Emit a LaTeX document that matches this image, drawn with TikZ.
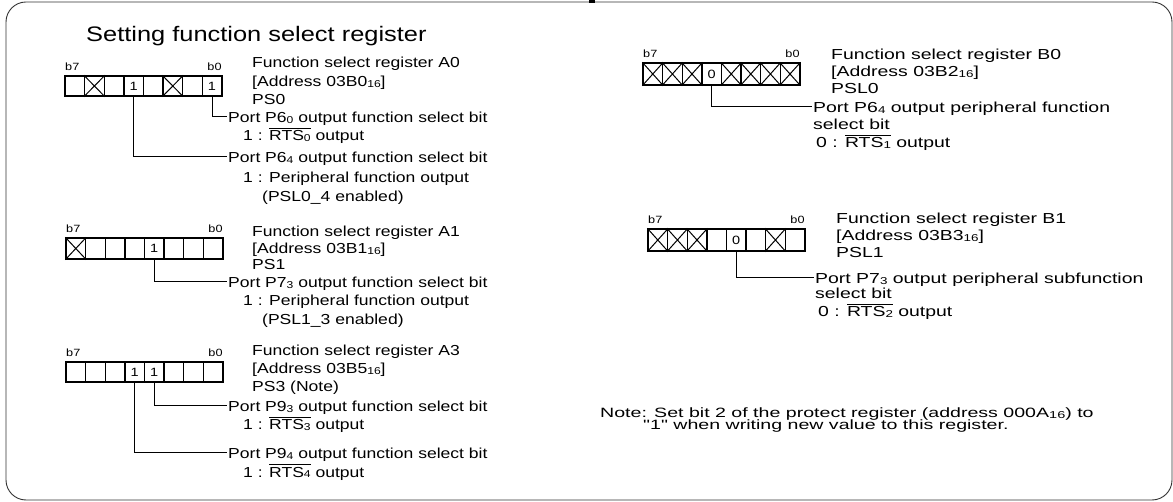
\documentclass[tikz,border=0pt]{standalone}
\usepackage{fontspec}
\setmainfont{Liberation Sans}[FakeStretch=1.21]
\newfontfamily\rfont{Liberation Sans}[FakeStretch=1.34]
\newfontfamily\nfont{Liberation Sans}[FakeStretch=1.45]
\newlength\ovlw
\newcommand\sbx[1]{{\fontsize{10}{10}\selectfont\raisebox{-0.8pt}{#1}}}
\newcommand\ovl[1]{\settowidth\ovlw{#1}\leavevmode\rlap{\raisebox{12.5pt}{\rule{\ovlw}{0.9pt}}}#1}
\tikzset{
  txt/.style={anchor=base west, inner sep=0pt, font=\fontsize{14.5}{17}\selectfont},
  txtr/.style={anchor=base west, inner sep=0pt, font=\rfont\fontsize{14.5}{17}\selectfont},
  ttl/.style={anchor=base west, inner sep=0pt, font=\fontsize{21}{24}\selectfont},
  notetxt/.style={anchor=base west, inner sep=0pt, font=\nfont\fontsize{13.5}{15}\selectfont},
  bitl/.style={inner sep=0pt, font=\fontsize{10.5}{12}\selectfont},
  cell/.style={draw, line width=1.4pt, inner sep=0pt, minimum width=19.6pt, font=\fontsize{12}{12}\selectfont},
  lead/.style={line width=0.9pt},
  frame/.style={line width=0.9pt, draw=black!80, rounded corners=20pt},
}
% #1 name, #2 x left, #3 y top, #4 height, #5 list
\newcommand\reg[5]{%
  \foreach \v/\k [count=\i from 0] in {#5}{%
    \node[cell, minimum height=#4pt] (#1-\i) at (#2+\i*19.6+9.8, #3+#4/2) {\v};
    \ifnum\k=1 \draw[line width=1pt] (#1-\i.north west)--(#1-\i.south east) (#1-\i.north east)--(#1-\i.south west);\fi
  }%
  \node[bitl, anchor=base west] (#1-b7) at (#2, #3-5) {b7};
  \node[bitl, anchor=base east] (#1-b0) at (#2+156.8, #3-5) {b0};
}
\begin{document}
\begin{tikzpicture}[x=1pt, y=-1pt]
\useasboundingbox (0,0) rectangle (1173,502);
\draw[frame] (6,2) rectangle (1172,500);
\fill (589,0) rectangle (595,3);

\node[ttl] (title) at (86,42) {Setting function select register};

% ---- A0
\reg{a0}{65}{76}{20}{/0,/1,/0,1/0,/0,/1,/0,1/0}
\node[txt] (a0t1) at (252,68) {Function select register A0};
\node[txt] (a0t2) at (252,87) {[Address 03B0\sbx{16}]};
\node[txt] (a0t3) at (252,105) {PS0};
\node[txt] (a0t4) at (228,123) {Port P6\sbx{0} output function select bit};
\node[txt] (a0t5) at (243,141) {1 : \ovl{RTS\sbx{0}} output};
\node[txt] (a0t6) at (228,163) {Port P6\sbx{4} output function select bit};
\node[txt] (a0t7) at (243,183) {1 : Peripheral function output};
\node[txt] (a0t8) at (262,202) {(PSL0\_4 enabled)};
\draw[lead] (a0-7.south) |- ([xshift=-1pt,yshift=6.5pt]a0t4.base west);
\draw[lead] (a0-3.south) |- ([xshift=-1pt,yshift=6.5pt]a0t6.base west);

% ---- A1
\reg{a1}{66}{238}{21}{/1,/0,/0,/0,1/0,/0,/0,/0}
\node[txt] (a1t1) at (252,237) {Function select register A1};
\node[txt] (a1t2) at (252,254) {[Address 03B1\sbx{16}]};
\node[txt] (a1t3) at (252,270) {PS1};
\node[txt] (a1t4) at (228,288) {Port P7\sbx{3} output function select bit};
\node[txt] (a1t5) at (243,306) {1 : Peripheral function output};
\node[txt] (a1t6) at (262,325) {(PSL1\_3 enabled)};
\draw[lead] (a1-4.south) |- ([xshift=-1pt,yshift=6.5pt]a1t4.base west);

% ---- A3
\reg{a3}{66}{362}{20}{/0,/0,/0,1/0,1/0,/0,/0,/0}
\node[txt] (a3t1) at (252,356) {Function select register A3};
\node[txt] (a3t2) at (252,374) {[Address 03B5\sbx{16}]};
\node[txt] (a3t3) at (252,392) {PS3 (Note)};
\node[txt] (a3t4) at (228,412) {Port P9\sbx{3} output function select bit};
\node[txt] (a3t5) at (243,430) {1 : \ovl{RTS\sbx{3}} output};
\node[txt] (a3t6) at (228,459) {Port P9\sbx{4} output function select bit};
\node[txt] (a3t7) at (243,477) {1 : \ovl{RTS\sbx{4}} output};
\draw[lead] (a3-4.south) |- ([xshift=-1pt,yshift=6.5pt]a3t4.base west);
\draw[lead] (a3-3.south) |- ([xshift=-1pt,yshift=6.5pt]a3t6.base west);

% ---- B0
\reg{b0}{643}{63}{22}{/1,/1,/1,0/0,/1,/1,/1,/1}
\node[txtr] (b0t1) at (831,60) {Function select register B0};
\node[txtr] (b0t2) at (831,77) {[Address 03B2\sbx{16}]};
\node[txtr] (b0t3) at (831,94) {PSL0};
\node[txtr] (b0t4) at (813,113) {Port P6\sbx{4} output peripheral function};
\node[txtr] (b0t5) at (813,130) {select bit};
\node[txtr] (b0t6) at (816,148) {0 : \ovl{RTS\sbx{1}} output};
\draw[lead] (b0-3.south) |- ([xshift=-1pt,yshift=6.5pt]b0t4.base west);

% ---- B1
\reg{b1}{648}{229}{22}{/1,/1,/1,/0,0/0,/0,/1,/0}
\node[txtr] (b1t1) at (836,224) {Function select register B1};
\node[txtr] (b1t2) at (836,241) {[Address 03B3\sbx{16}]};
\node[txtr] (b1t3) at (836,258) {PSL1};
\node[txtr] (b1t4) at (815,284) {Port P7\sbx{3} output peripheral subfunction};
\node[txtr] (b1t5) at (815,299) {select bit};
\node[txtr] (b1t6) at (818,317) {0 : \ovl{RTS\sbx{2}} output};
\draw[lead] (b1-4.south) |- ([xshift=-1pt,yshift=6.5pt]b1t4.base west);

% ---- Note
\node[notetxt] (n1) at (600,418) {Note: Set bit 2 of the protect register (address 000A\sbx{16}) to};
\node[notetxt] (n2) at (643,430) {"1" when writing new value to this register.};
\end{tikzpicture}
\end{document}
